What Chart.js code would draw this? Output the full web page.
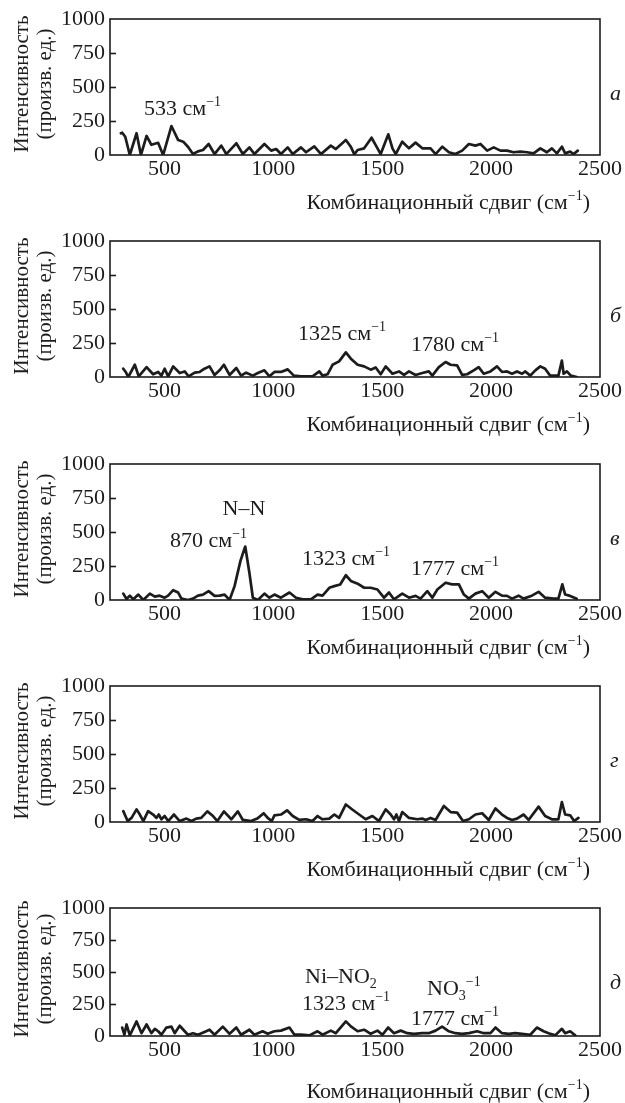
<!DOCTYPE html>
<html>
<head>
<meta charset="utf-8">
<script src="https://cdn.jsdelivr.net/npm/chart.js@4.4.1/dist/chart.umd.min.js"></script>
<style>
  body { margin: 0; background: #fff; width: 625px; height: 1103px; position: relative; overflow: hidden; }
  .panel { position: absolute; left: 0; width: 625px; }
</style>
</head>
<body>
<div class="panel" style="top:0px"><canvas id="chartA" width="625" height="222"></canvas></div>
<div class="panel" style="top:222px"><canvas id="chartB" width="625" height="222"></canvas></div>
<div class="panel" style="top:445px"><canvas id="chartC" width="625" height="222"></canvas></div>
<div class="panel" style="top:667px"><canvas id="chartD" width="625" height="222"></canvas></div>
<div class="panel" style="top:889px"><canvas id="chartE" width="625" height="214"></canvas></div>
<script>
// Raman shift (cm-1) and intensity (arb. units)
const shiftA = [300,306,320,341,372,392,418,440,471,494,532,563,586,608,631,654,677,703,730,761,784,830,860,890,913,959,990,1013,1035,1066,1089,1127,1150,1188,1219,1264,1287,1333,1356,1372,1387,1417,1451,1470,1493,1528,1547,1562,1592,1623,1653,1684,1722,1745,1776,1806,1836,1867,1898,1928,1951,1982,2012,2043,2073,2103,2134,2165,2195,2226,2256,2279,2302,2325,2340,2363,2379,2398];
const intensityA = [160,164,134,0,160,0,140,75,90,0,213,110,98,61,7,27,37,81,7,69,7,86,7,56,7,81,32,44,7,56,7,56,20,64,7,69,44,110,60,5,37,49,127,73,7,152,49,7,98,49,91,49,49,7,61,20,7,32,81,69,81,32,56,32,32,20,25,20,12,49,20,49,12,61,12,25,7,32];

const shiftB = [311,322,334,364,382,418,448,471,486,501,517,540,570,593,611,639,662,684,707,730,753,773,799,830,852,875,906,929,959,982,1005,1035,1066,1094,1127,1180,1211,1226,1249,1272,1302,1333,1356,1387,1417,1447,1470,1493,1516,1547,1577,1600,1623,1653,1684,1714,1730,1760,1791,1814,1844,1867,1890,1920,1943,1966,1997,2027,2050,2073,2096,2119,2142,2157,2180,2203,2226,2248,2271,2309,2325,2333,2348,2366,2393];
const intensityB = [61,37,0,90,5,73,20,37,10,61,5,78,29,41,5,32,37,61,78,15,49,90,15,66,10,32,10,29,49,5,37,37,56,10,5,5,41,10,20,90,115,181,135,90,78,54,70,20,78,24,41,15,41,15,29,41,10,73,110,90,85,15,20,49,73,24,41,78,37,41,24,41,24,41,10,49,78,61,10,10,120,24,41,10,0];

const shiftC = [311,326,341,357,380,403,433,456,478,501,517,540,563,578,608,631,654,677,703,730,753,776,799,822,849,871,890,906,929,959,982,1005,1035,1074,1104,1135,1173,1203,1226,1257,1280,1307,1333,1356,1387,1417,1447,1478,1508,1531,1554,1592,1623,1653,1676,1707,1730,1753,1791,1821,1852,1875,1898,1928,1959,1989,2020,2050,2073,2096,2126,2149,2187,2218,2248,2286,2309,2327,2340,2363,2393];
const intensityC = [47,7,32,5,40,0,47,25,32,17,32,72,55,10,0,10,32,40,65,30,32,40,0,102,288,393,200,17,0,47,17,40,17,55,17,5,5,40,32,90,102,114,182,140,120,90,90,77,17,55,5,47,17,30,10,65,17,77,127,115,115,40,10,47,65,17,60,32,30,10,32,10,32,60,17,10,10,115,40,30,10];

const shiftD = [311,331,349,372,387,403,425,448,463,474,486,501,517,544,570,601,624,646,669,697,723,743,773,807,837,860,898,926,956,974,993,1005,1035,1063,1089,1119,1150,1180,1203,1226,1257,1280,1302,1333,1364,1394,1424,1455,1485,1516,1539,1554,1565,1577,1592,1623,1661,1684,1699,1722,1745,1783,1814,1844,1871,1898,1928,1959,1989,2020,2050,2073,2096,2119,2149,2172,2218,2248,2279,2309,2325,2340,2363,2381,2401];
const intensityD = [80,7,30,93,55,7,80,55,30,55,20,44,7,55,7,25,7,25,30,78,44,7,78,20,78,15,7,25,64,30,7,49,55,86,44,15,20,7,44,20,25,55,30,129,90,55,20,44,7,93,55,20,55,7,73,30,20,25,15,30,15,118,73,69,7,20,55,64,15,100,55,30,15,25,55,15,113,44,20,20,147,55,49,7,30];

const shiftE = [306,316,326,341,372,395,418,440,456,471,486,509,532,547,570,593,608,631,654,684,707,730,768,799,830,852,890,913,951,974,1005,1035,1074,1097,1127,1165,1203,1226,1264,1287,1333,1356,1387,1417,1447,1478,1501,1527,1554,1585,1615,1646,1684,1714,1745,1775,1806,1836,1867,1898,1936,1966,1997,2020,2050,2081,2111,2142,2180,2210,2241,2264,2294,2325,2340,2363,2386];
const intensityE = [66,10,90,5,114,22,90,22,56,37,10,66,73,22,80,37,10,22,10,32,49,10,73,17,66,10,49,10,37,17,37,42,66,10,10,5,37,10,42,22,114,75,37,49,17,42,10,66,22,42,22,17,22,22,42,73,37,22,17,22,37,22,22,66,22,17,22,17,10,66,37,22,5,56,22,37,5];

const xTickLabels = [500, 1000, 1500, 2000, 2500];
const yTickLabels = [0, 250, 500, 750, 1000];
const panelLetters = ['а', 'б', 'в', 'г', 'д'];

const FONT = '"Liberation Serif", "DejaVu Serif", serif';
const INK = '#1c1c1c';
const TXT = 22;
const SMALL = 14;

// text pieces: [text, 'sup' | 'sub' | undefined]
function drawRich(ctx, parts, x, y, align) {
    const widths = parts.map(p => {
        ctx.font = (p[1] ? SMALL : TXT) + 'px ' + FONT;
        return ctx.measureText(p[0]).width;
    });
    const total = widths.reduce((a, b) => a + b, 0);
    let cx = align === 'right' ? x - total : align === 'center' ? x - total / 2 : x;
    ctx.textAlign = 'left';
    ctx.textBaseline = 'alphabetic';
    parts.forEach((p, i) => {
        ctx.font = (p[1] ? SMALL : TXT) + 'px ' + FONT;
        const dy = p[1] === 'sup' ? -9 : p[1] === 'sub' ? 5 : 0;
        ctx.fillText(p[0], cx, y + dy);
        cx += widths[i];
    });
}

const cm = [['см'], ['−1', 'sup']];
const notes = [
    [{ x: 144, y: 115, parts: [['533 ']].concat(cm) }],
    [{ x: 298, y: 118, parts: [['1325 ']].concat(cm) },
     { x: 411, y: 129, parts: [['1780 ']].concat(cm) }],
    [{ x: 244, y: 70, parts: [['N–N']], align: 'center' },
     { x: 170, y: 102, parts: [['870 ']].concat(cm) },
     { x: 302, y: 120, parts: [['1323 ']].concat(cm) },
     { x: 411, y: 130, parts: [['1777 ']].concat(cm) }],
    [],
    [{ x: 305, y: 94, parts: [['Ni–NO'], ['2', 'sub']] },
     { x: 302, y: 121, parts: [['1323 ']].concat(cm) },
     { x: 427, y: 106, parts: [['NO'], ['3', 'sub'], ['−1', 'sup']] },
     { x: 411, y: 136, parts: [['1777 ']].concat(cm) }]
];

const decorPlugin = {
    id: 'decor',
    afterDraw(chart, args, opts) {
        const ctx = chart.ctx;
        const area = chart.chartArea;
        const yScale = chart.scales.y;
        ctx.save();
        ctx.strokeStyle = INK;
        ctx.fillStyle = INK;
        ctx.lineWidth = 1.6;
        ctx.strokeRect(area.left, area.top, area.right - area.left, area.bottom - area.top);
        // inward ticks on the intensity axis
        yTickLabels.slice(1, -1).forEach(v => {
            const py = Math.round(yScale.getPixelForValue(v)) + 0.5;
            ctx.beginPath();
            ctx.moveTo(area.left, py);
            ctx.lineTo(area.left + 6, py);
            ctx.stroke();
        });
        // axis titles
        const midY = (area.top + area.bottom) / 2;
        ctx.font = '21px ' + FONT;
        ctx.textAlign = 'center';
        ctx.textBaseline = 'middle';
        ctx.save();
        ctx.translate(22, midY - 3);
        ctx.rotate(-Math.PI / 2);
        ctx.fillText('Интенсивность', 0, 0);
        ctx.restore();
        ctx.save();
        ctx.translate(45, midY - 3);
        ctx.rotate(-Math.PI / 2);
        ctx.fillText('(произв. ед.)', 0, 0);
        ctx.restore();
        drawRich(ctx, [['Комбинационный сдвиг ('], ['см'], ['−1', 'sup'], [')']], 590, 209, 'right');
        // panel letter
        ctx.font = 'italic 22px ' + FONT;
        ctx.textAlign = 'left';
        ctx.textBaseline = 'alphabetic';
        ctx.fillText(opts.letter, 610, 100);
        opts.notes.forEach(n => drawRich(ctx, n.parts, n.x, n.y, n.align));
        ctx.restore();
    }
};

function makeChart(canvasId, shift, intensity, idx) {
    new Chart(document.getElementById(canvasId), {
        type: 'line',
        data: {
            datasets: [{
                data: shift.map((x, i) => ({ x: x, y: intensity[i] })),
                borderColor: INK,
                borderWidth: 2.7,
                borderJoinStyle: 'round',
                borderCapStyle: 'round',
                pointRadius: 0,
                tension: 0,
                fill: false
            }]
        },
        options: {
            responsive: false,
            animation: false,
            devicePixelRatio: 1,
            layout: { padding: { top: 19, right: 25, left: 0, bottom: 0 } },
            plugins: {
                legend: { display: false },
                tooltip: { enabled: false },
                decor: { letter: panelLetters[idx], notes: notes[idx] }
            },
            scales: {
                x: {
                    type: 'linear',
                    min: 250,
                    max: 2500,
                    grid: { display: false, drawTicks: false },
                    border: { display: false },
                    afterBuildTicks: s => { s.ticks = xTickLabels.map(v => ({ value: v })); },
                    afterFit: s => { s.height = 67; },
                    ticks: { color: INK, padding: 1, maxRotation: 0, font: { family: FONT, size: TXT },
                             callback: v => String(v) }
                },
                y: {
                    min: 0,
                    max: 1000,
                    grid: { display: false, drawTicks: false },
                    border: { display: false },
                    afterBuildTicks: s => { s.ticks = yTickLabels.map(v => ({ value: v })); },
                    afterFit: s => { s.width = 110; },
                    ticks: { color: INK, padding: 5, font: { family: FONT, size: TXT },
                             callback: v => String(v) }
                }
            }
        },
        plugins: [decorPlugin]
    });
}

document.addEventListener('DOMContentLoaded', function () {
    makeChart('chartA', shiftA, intensityA, 0);
    makeChart('chartB', shiftB, intensityB, 1);
    makeChart('chartC', shiftC, intensityC, 2);
    makeChart('chartD', shiftD, intensityD, 3);
    makeChart('chartE', shiftE, intensityE, 4);
});
</script>
</body>
</html>
